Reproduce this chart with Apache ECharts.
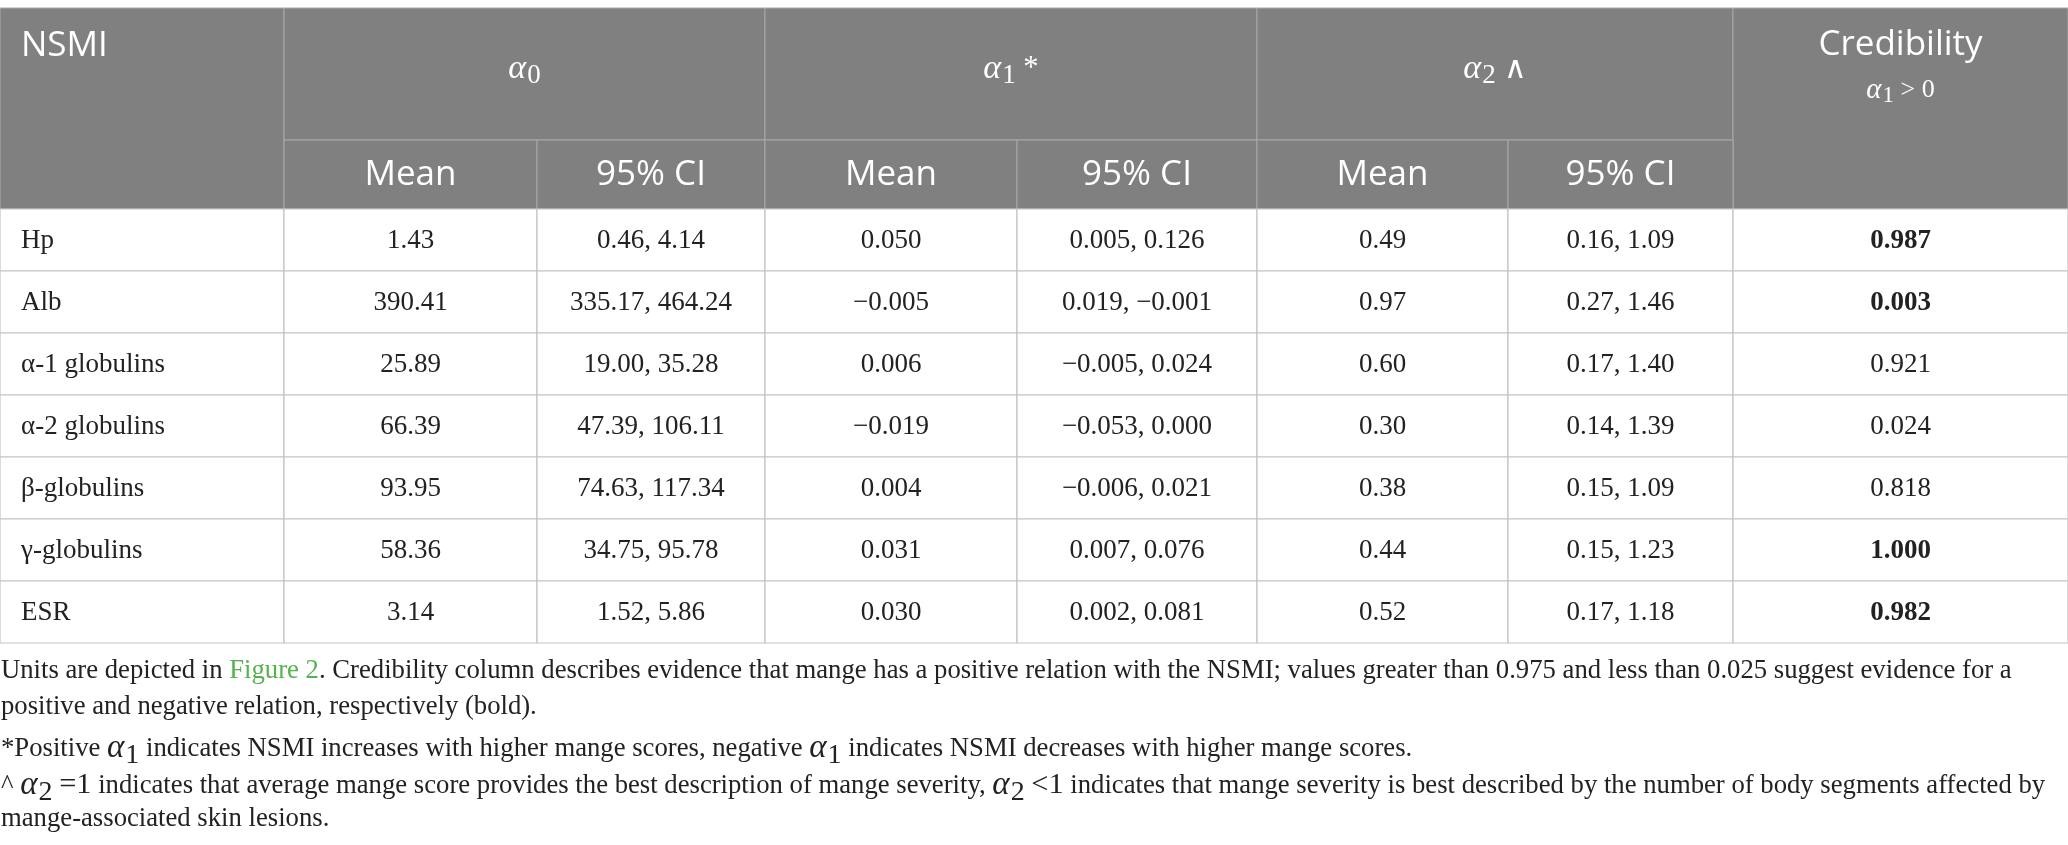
<!DOCTYPE html>
<html>
<head>
<meta charset="utf-8">
<script src="https://cdn.jsdelivr.net/npm/echarts@6.0.0/dist/echarts.min.js"></script>
<style>
  html, body { margin: 0; padding: 0; background: #fff; }
  #table { width: 2068px; height: 845px; }
</style>
</head>
<body>
<div id="table"></div>
<script>
// table values
var nsmi = ['Hp', 'Alb', 'α-1 globulins', 'α-2 globulins', 'β-globulins', 'γ-globulins', 'ESR'];
var a0Mean = [1.43, 390.41, 25.89, 66.39, 93.95, 58.36, 3.14];
var a0Low = [0.46, 335.17, 19.00, 47.39, 74.63, 34.75, 1.52];
var a0High = [4.14, 464.24, 35.28, 106.11, 117.34, 95.78, 5.86];
var a1Mean = [0.050, -0.005, 0.006, -0.019, 0.004, 0.031, 0.030];
var a1Low = [0.005, 0.019, -0.005, -0.053, -0.006, 0.007, 0.002];
var a1High = [0.126, -0.001, 0.024, 0.000, 0.021, 0.076, 0.081];
var a2Mean = [0.49, 0.97, 0.60, 0.30, 0.38, 0.44, 0.52];
var a2Low = [0.16, 0.27, 0.17, 0.14, 0.15, 0.15, 0.17];
var a2High = [1.09, 1.46, 1.40, 1.39, 1.09, 1.23, 1.18];
var credibility = [0.987, 0.003, 0.921, 0.024, 0.818, 1.000, 0.982];
var credBold = [true, true, false, false, false, true, true]; // as printed in the source

var subHeads = ['Mean', '95% CI'];
var notes = [
  'Units are depicted in {g|Figure 2}. Credibility column describes evidence that mange has a positive relation with the NSMI; values greater than 0.975 and less than 0.025 suggest evidence for a',
  'positive and negative relation, respectively (bold).',
  '*Positive {m|α}{s|1} indicates NSMI increases with higher mange scores, negative {m|α}{s|1} indicates NSMI decreases with higher mange scores.',
  '^ {m|α}{s|2} {q|=1} indicates that average mange score provides the best description of mange severity, {m|α}{s|2} {q|<1} indicates that mange severity is best described by the number of body segments affected by',
  'mange-associated skin lesions.'
];

// layout (axis units = pixels)
var colEdges = [0, 284, 537, 765, 1017, 1257, 1508, 1733, 2068];
var rowEdges = [8, 140, 209, 271, 333, 395, 457, 519, 581, 643];
var noteY = [674, 710, 749, 786, 822];

var SANS = '"Open Sans", "Noto Sans", sans-serif';
var SERIF = '"Liberation Serif", "DejaVu Serif", serif';

function num(v, d) {
  return (v < 0 ? '−' : '') + Math.abs(v).toFixed(d);
}
function ci(lo, hi, d) {
  return num(lo, d) + ', ' + num(hi, d);
}
function mathRich(color, size, subSize) {
  return {
    m: { fontFamily: SERIF, fontStyle: 'italic', fontSize: size, fill: color, color: color },
    s: { fontFamily: SERIF, fontSize: subSize, fill: color, color: color, padding: [Math.round(subSize * 0.5), 0, 0, 1] },
    q: { fontFamily: SERIF, fontSize: size * 0.92, fill: color, color: color },
    t: { fontFamily: SERIF, fontSize: size * 0.9, fill: color, color: color },
    c: { fontFamily: SANS, fontSize: size * 0.9, fill: color, color: color },
    g: { fill: '#55b24f', color: '#55b24f' }
  };
}

// cells: [c0, c1, r0, r1]
var cells = [];
cells.push({ c: [0, 1], r: [0, 2], head: 'left', text: 'NSMI' });
cells.push({ c: [1, 3], r: [0, 1], head: 'math', text: '{m|α}{s|0}' });
cells.push({ c: [3, 5], r: [0, 1], head: 'math', text: '{m|α}{s|1}{t| *}' });
cells.push({ c: [5, 7], r: [0, 1], head: 'math', text: '{m|α}{s|2}{c| ∧}' });
cells.push({ c: [7, 8], r: [0, 2], head: 'cred', text: 'Credibility', sub: '{m|α}{s|1}{t| > 0}' });
for (var g = 0; g < 3; g++) {
  for (var k = 0; k < subHeads.length; k++) {
    var c = 1 + g * 2 + k;
    cells.push({ c: [c, c + 1], r: [1, 2], head: 'sub', text: subHeads[k] });
  }
}
for (var i = 0; i < nsmi.length; i++) {
  var r = [i + 2, i + 3];
  var row = [
    nsmi[i],
    num(a0Mean[i], 2), ci(a0Low[i], a0High[i], 2),
    num(a1Mean[i], 3), ci(a1Low[i], a1High[i], 3),
    num(a2Mean[i], 2), ci(a2Low[i], a2High[i], 2),
    num(credibility[i], 3)
  ];
  for (var j = 0; j < row.length; j++) {
    cells.push({ c: [j, j + 1], r: r, text: row[j], first: j === 0, bold: j === 7 && credBold[i] });
  }
}

var chart = echarts.init(document.getElementById('table'));

function renderCell(params, api) {
  var cell = cells[params.dataIndex];
  var p0 = api.coord([api.value(0), api.value(2)]);
  var p1 = api.coord([api.value(1), api.value(3)]);
  var w = p1[0] - p0[0], h = p1[1] - p0[1];
  var kids = [{
    type: 'rect',
    shape: { x: p0[0], y: p0[1], width: w, height: h },
    style: cell.head
      ? { fill: '#808080', stroke: '#a9a9a9', lineWidth: 1 }
      : { fill: '#fff', stroke: '#c4c4c4', lineWidth: 1.2 }
  }];
  var cx = p0[0] + w / 2;
  if (cell.head === 'left') {
    kids.push({ type: 'text', x: p0[0] + 21, y: p0[1] + 38,
      style: { text: cell.text, fill: '#fff', fontFamily: SANS, fontSize: 35, align: 'left', verticalAlign: 'middle' } });
  } else if (cell.head === 'math') {
    kids.push({ type: 'text', x: cx, y: p0[1] + h / 2 - 5,
      style: { text: cell.text, rich: mathRich('#fff', 34, 27), fill: '#fff', fontFamily: SERIF, fontSize: 34, align: 'center', verticalAlign: 'middle' } });
  } else if (cell.head === 'cred') {
    kids.push({ type: 'text', x: cx, y: p0[1] + 37,
      style: { text: cell.text, fill: '#fff', fontFamily: SANS, fontSize: 35, align: 'center', verticalAlign: 'middle' } });
    kids.push({ type: 'text', x: cx, y: p0[1] + 82,
      style: { text: cell.sub, rich: mathRich('#fff', 29, 23), fill: '#fff', fontFamily: SERIF, fontSize: 29, align: 'center', verticalAlign: 'middle' } });
  } else if (cell.head === 'sub') {
    kids.push({ type: 'text', x: cx, y: p0[1] + h / 2 + 1,
      style: { text: cell.text, fill: '#fff', fontFamily: SANS, fontSize: 35, align: 'center', verticalAlign: 'middle' } });
  } else {
    kids.push({ type: 'text', x: cell.first ? p0[0] + 21 : cx, y: p0[1] + h / 2 + 1,
      style: { text: cell.text, fill: '#222', fontFamily: SERIF, fontSize: 27,
        fontWeight: cell.bold ? 'bold' : 'normal', align: cell.first ? 'left' : 'center', verticalAlign: 'middle' } });
  }
  return { type: 'group', children: kids };
}

var option = {
  animation: false,
  grid: { left: 0, right: 0, top: 0, bottom: 0 },
  xAxis: { type: 'value', min: 0, max: 2068, show: false },
  yAxis: { type: 'value', min: 0, max: 845, inverse: true, show: false },
  graphic: notes.map(function (t, n) {
    return {
      type: 'text', left: 1, top: noteY[n] - 17,
      style: { text: t, rich: mathRich('#222', 33, 28), fill: '#222', fontFamily: SERIF, fontSize: 26.7 }
    };
  }),
  series: [{
    type: 'custom',
    clip: false,
    encode: { x: [0, 1], y: [2, 3] },
    renderItem: renderCell,
    data: cells.map(function (cl) {
      return [colEdges[cl.c[0]], colEdges[cl.c[1]], rowEdges[cl.r[0]], rowEdges[cl.r[1]]];
    })
  }]
};
chart.setOption(option);
</script>
</body>
</html>
